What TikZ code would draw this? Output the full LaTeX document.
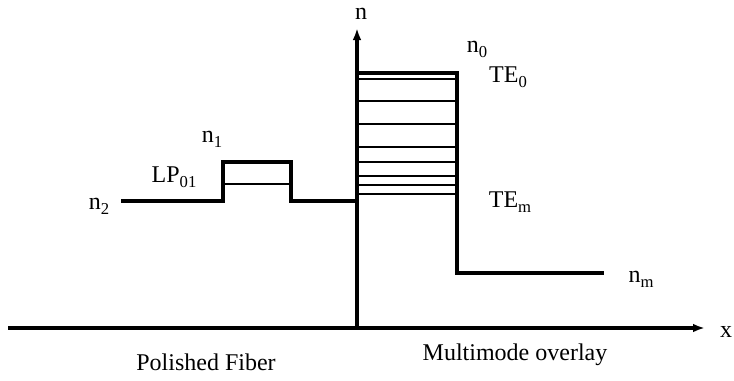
\documentclass[tikz,border=0pt]{standalone}
\usepackage{fontspec}
\setmainfont{Liberation Serif}
\usetikzlibrary{arrows.meta}
\newcommand\lowsub[1]{\raisebox{-0.45ex}{\fontsize{12.5}{13}\selectfont #1}}
\begin{document}
\begin{tikzpicture}[x=0.75pt,y=-0.75pt,
  lbl/.style={inner sep=0pt,font=\fontsize{18}{20}\selectfont},
  axis/.style={line width=2.4pt,-{Latex[length=9pt,width=6.5pt]}},
  thickprof/.style={line width=2.6pt,line join=miter},
  level/.style={line width=1.1pt}]
\useasboundingbox (0,0) rectangle (734,380);
% axes
\coordinate (o) at (357,328);
\coordinate (xl) at (8,328);
\coordinate (xr) at (705,328);
\coordinate (nt) at (357,28);
\draw[axis] (xl) -- (xr);
\draw[axis] (o) -- (nt);
% polished fiber step profile
\draw[thickprof] (121,201) -- (223,201) -- (223,162) -- (291,162) -- (291,201) -- (357,201);
\draw[level] (223,184) -- (291,184);
% multimode overlay profile
\draw[thickprof] (357,73) -- (457,73) -- (457,273) -- (604,273);
\foreach \yy in {79,101,124,147,162,176,185,194}
  \draw[level] (357,\yy) -- (457,\yy);
% labels
\node[lbl] (ln) at (361,14) {n};
\node[lbl] (lx) at (726,332) {x};
\node[lbl] (ln0) at (477,49) {n\lowsub{0}};
\node[lbl] (lte0) at (508,77) {TE\lowsub{0}};
\node[lbl] (ltem) at (510,202) {TE\lowsub{m}};
\node[lbl] (lnm) at (641,279) {n\lowsub{m}};
\node[lbl] (ln1) at (212,139) {n\lowsub{1}};
\node[lbl] (llp) at (174,177) {LP\lowsub{01}};
\node[lbl] (ln2) at (99,206) {n\lowsub{2}};
\node[lbl] (lpf) at (206,362) {Polished Fiber};
\node[lbl] (lmo) at (515,355) {Multimode overlay};
\end{tikzpicture}
\end{document}
